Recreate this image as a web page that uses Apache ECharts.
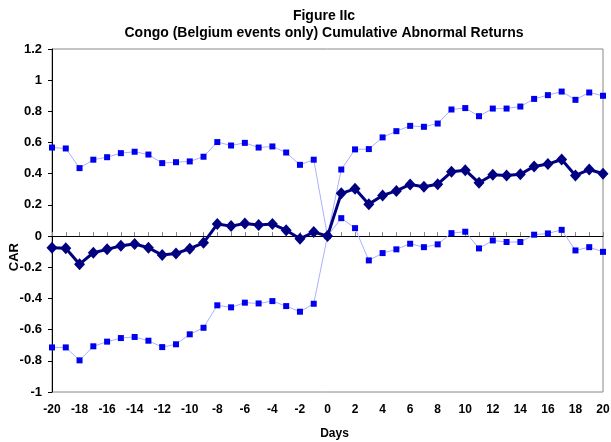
<!DOCTYPE html>
<html>
<head>
<meta charset="utf-8">
<script src="https://cdn.jsdelivr.net/npm/echarts@6/dist/echarts.min.js"></script>
<style>
  html, body { margin: 0; padding: 0; background: #fff; }
  #chart { width: 611px; height: 442px; }
</style>
</head>
<body>
<div id="chart"></div>
<script>
// days relative to event
const days = [];
for (let d = -20; d <= 20; d++) days.push(d);

// values
const car = [-0.075, -0.078, -0.18, -0.107, -0.085, -0.062, -0.051, -0.075, -0.122, -0.111,
  -0.081, -0.043, 0.077, 0.064, 0.081, 0.071, 0.077, 0.038, -0.017, 0.026,
  0, 0.274, 0.303, 0.205, 0.261, 0.29, 0.331, 0.316, 0.333, 0.412,
  0.423, 0.342, 0.393, 0.389, 0.397, 0.447, 0.462, 0.491, 0.389, 0.427, 0.4];
const upper = [0.568, 0.562, 0.436, 0.49, 0.506, 0.532, 0.541, 0.523, 0.468, 0.474,
  0.479, 0.509, 0.603, 0.581, 0.598, 0.568, 0.575, 0.536, 0.457, 0.49,
  0, 0.427, 0.556, 0.558, 0.633, 0.673, 0.707, 0.701, 0.722, 0.812,
  0.821, 0.769, 0.818, 0.818, 0.831, 0.88, 0.904, 0.927, 0.874, 0.921, 0.9];
const lower = [-0.714, -0.714, -0.797, -0.707, -0.677, -0.654, -0.647, -0.671, -0.712, -0.694,
  -0.63, -0.588, -0.444, -0.457, -0.427, -0.432, -0.417, -0.449, -0.485, -0.434,
  0, 0.115, 0.051, -0.156, -0.109, -0.085, -0.049, -0.071, -0.053, 0.019,
  0.028, -0.079, -0.028, -0.038, -0.038, 0.009, 0.017, 0.04, -0.092, -0.071, -0.101];

const pairs = arr => days.map((d, i) => [d, arr[i]]);
const font = 'Liberation Sans, Arial, sans-serif';

let myChart = echarts.init(document.getElementById('chart'));
let option = {
  animation: false,
  title: {
    text: 'Figure IIc\nCongo (Belgium events only) Cumulative Abnormal Returns',
    left: 319,
    textAlign: 'center',
    top: 3,
    textStyle: { fontFamily: font, fontSize: 14, fontWeight: 'bold', color: '#000', lineHeight: 17 }
  },
  grid: {
    left: 52, right: 8, top: 49, bottom: 50,
    outerBoundsMode: 'none',
    show: true, borderColor: '#888', borderWidth: 1
  },
  xAxis: [
    {
      // labels at bottom
      type: 'value', min: -20, max: 20, interval: 2,
      position: 'bottom',
      axisLine: { show: false, onZero: false },
      axisTick: { show: false },
      splitLine: { show: false },
      axisLabel: { fontFamily: font, fontSize: 12, fontWeight: 'bold', color: '#000', margin: 12 },
      name: 'Days', nameLocation: 'middle', nameGap: 36,
      nameTextStyle: { fontFamily: font, fontSize: 12, fontWeight: 'bold', color: '#000', padding: [0, 0, 0, 14] }
    },
    {
      // zero line with daily ticks
      type: 'value', min: -20, max: 20, interval: 1,
      position: 'bottom',
      axisLine: { show: true, onZero: true, lineStyle: { color: '#000', width: 1 } },
      axisTick: { show: true, inside: true, length: 4, lineStyle: { color: '#888' } },
      axisLabel: { show: false },
      splitLine: { show: false }
    }
  ],
  yAxis: {
    type: 'value', min: -1, max: 1.2, interval: 0.2,
    axisLine: { show: true, onZero: false, lineStyle: { color: '#000' } },
    axisTick: { show: true, length: 4, lineStyle: { color: '#000' } },
    splitLine: { show: false },
    axisLabel: {
      fontFamily: font, fontSize: 13, fontWeight: 'bold', color: '#000', margin: 10,
      formatter: v => String(+v.toFixed(1))
    }
  },
  graphic: [{
    type: 'text', left: 8, top: 243,
    rotation: Math.PI / 2,
    style: { text: 'CAR', font: 'bold 13px Liberation Sans, Arial, sans-serif', fill: '#000' }
  }],
  series: [
    {
      name: 'upper', type: 'line', xAxisIndex: 0, data: pairs(upper),
      symbol: 'rect', symbolSize: 6,
      lineStyle: { color: '#aab0ff', width: 1 },
      itemStyle: { color: '#0000ee' }
    },
    {
      name: 'lower', type: 'line', xAxisIndex: 0, data: pairs(lower),
      symbol: 'rect', symbolSize: 6,
      lineStyle: { color: '#aab0ff', width: 1 },
      itemStyle: { color: '#0000ee' }
    },
    {
      name: 'CAR', type: 'line', xAxisIndex: 0, data: pairs(car),
      symbol: 'diamond', symbolSize: [11, 12],
      lineStyle: { color: '#000080', width: 3 },
      itemStyle: { color: '#000080' },
      z: 5
    }
  ]
};
myChart.setOption(option);
</script>
</body>
</html>
